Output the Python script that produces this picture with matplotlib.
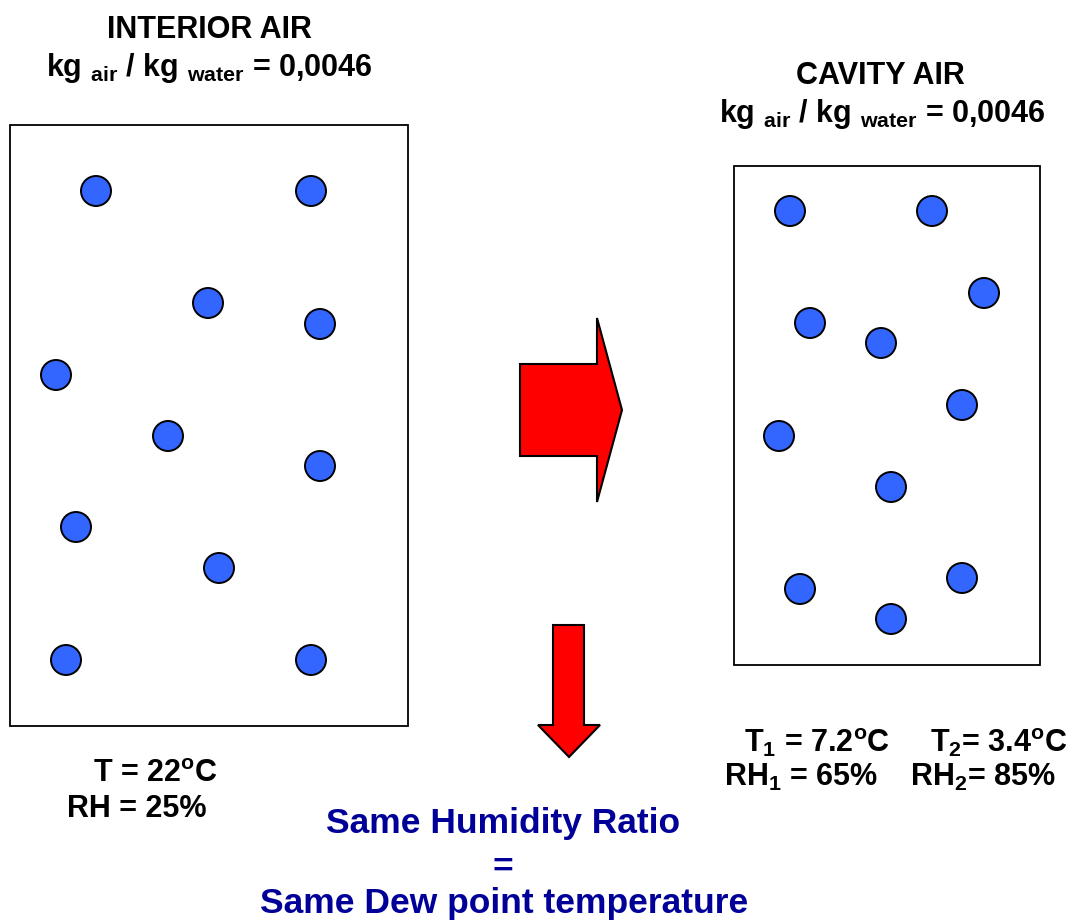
import matplotlib
matplotlib.use("Agg")
import matplotlib.pyplot as plt
from matplotlib.patches import Circle, Rectangle, Polygon

plt.rcParams['font.family'] = ['Liberation Sans', 'DejaVu Sans']
plt.rcParams['mathtext.fontset'] = 'custom'
plt.rcParams['mathtext.rm'] = 'Liberation Sans:bold'
plt.rcParams['mathtext.it'] = 'Liberation Sans:bold'
plt.rcParams['mathtext.bf'] = 'Liberation Sans:bold'

# ---- data (pixel-space layout of the diagram) ----
interior_box = (10, 125, 398, 601)   # x, y, w, h
cavity_box = (734, 166, 306, 499)

interior_x = [96, 311, 208, 320, 56, 168, 320, 76, 219, 66, 311]
interior_y = [191, 191, 303, 324, 375, 436, 466, 527, 568, 660, 660]
cavity_x = [790, 932, 984, 810, 881, 962, 779, 891, 800, 962, 891]
cavity_y = [211, 211, 293, 323, 343, 405, 436, 487, 589, 578, 619]
molecule_r = 15

ratio_label = r"kg $_{\rm air}$ / kg $_{\rm water}$ = 0,0046"
interior_title = "INTERIOR AIR"
cavity_title = "CAVITY AIR"
interior_T = r"T = 22$^{\rm o}$C"
interior_RH = "RH = 25%"
cavity_T1 = r"T$_{1}$ = 7.2$^{\rm o}$C"
cavity_T2 = r"T$_{2}$= 3.4$^{\rm o}$C"
cavity_RH1 = r"RH$_{1}$ = 65%"
cavity_RH2 = r"RH$_{2}$= 85%"
conclusion = ["Same Humidity Ratio", "=", "Same Dew point temperature"]

# right arrow: shaft x0, x1, y0, y1 ; head y0, y1, tip x, tip y
ra_shaft = (520, 597, 364, 456)
ra_head = (318, 502, 622, 410)
# down arrow: shaft x0, x1, y_top, y_head ; head x0, x1, tip x, tip y
da_shaft = (553, 584, 625, 725)
da_head = (538, 600, 569, 757)

W, H = 1079, 923
fig = plt.figure(figsize=(W / 100, H / 100), dpi=100)
ax = fig.add_axes([0, 0, 1, 1])
ax.set_xlim(0, W)
ax.set_ylim(H, 0)
ax.axis('off')

for bx in (interior_box, cavity_box):
    ax.add_patch(Rectangle((bx[0], bx[1]), bx[2], bx[3], fill=False,
                           edgecolor='black', linewidth=1.3))

for xs, ys in ((interior_x, interior_y), (cavity_x, cavity_y)):
    for x, y in zip(xs, ys):
        ax.add_patch(Circle((x, y), molecule_r, facecolor='#3366FF',
                            edgecolor='black', linewidth=1.4))

x0, x1, y0, y1 = ra_shaft
hy0, hy1, tx, ty = ra_head
ax.add_patch(Polygon([(x0, y0), (x1, y0), (x1, hy0), (tx, ty), (x1, hy1),
                      (x1, y1), (x0, y1)], closed=True, facecolor='#FF0000',
                     edgecolor='black', linewidth=1.5, joinstyle='miter'))

sx0, sx1, sy0, sy1 = da_shaft
hx0, hx1, dtx, dty = da_head
ax.add_patch(Polygon([(sx0, sy0), (sx1, sy0), (sx1, sy1), (hx1, sy1),
                      (dtx, dty), (hx0, sy1), (sx0, sy1)], closed=True,
                     facecolor='#FF0000', edgecolor='black', linewidth=1.5,
                     joinstyle='miter'))

fs = 22
kw = dict(fontweight='bold', color='black', ha='center', va='baseline')
ax.text(209, 38, interior_title, fontsize=fs, **kw)
ax.text(209, 76, ratio_label, fontsize=fs, **kw)
ax.text(880, 84, cavity_title, fontsize=fs, **kw)
ax.text(882, 122, ratio_label, fontsize=fs, **kw)

kwl = dict(fontweight='bold', color='black', ha='left', va='baseline')
ax.text(93, 782, interior_T, fontsize=fs, **kwl)
ax.text(67, 817, interior_RH, fontsize=fs, **kwl)
ax.text(744, 752, cavity_T1, fontsize=fs, **kwl)
ax.text(930, 752, cavity_T2, fontsize=fs, **kwl)
ax.text(724, 786, cavity_RH1, fontsize=fs, **kwl)
ax.text(910, 786, cavity_RH2, fontsize=fs, **kwl)

kwb = dict(fontweight='bold', color='#000099', ha='center', va='baseline')
ax.text(503, 833, conclusion[0], fontsize=25.5, **kwb)
ax.text(503, 877, conclusion[1], fontsize=25.5, **kwb)
ax.text(504, 913, conclusion[2], fontsize=25.5, **kwb)

fig.savefig('out.png', dpi=100)
